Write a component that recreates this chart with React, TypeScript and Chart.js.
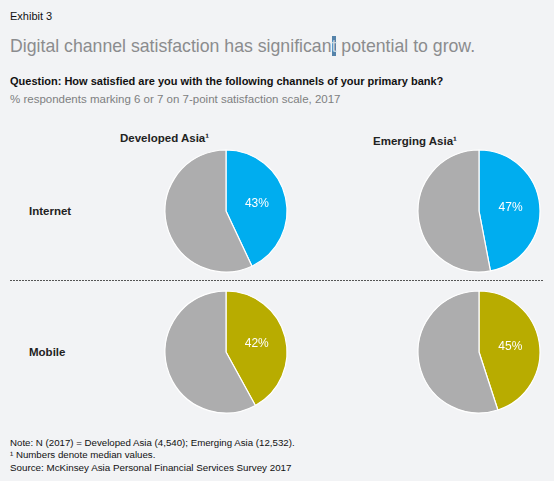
import React, { useEffect, useRef } from "react";
import { Chart, registerables } from "chart.js";

Chart.register(...registerables);

const regions = ["Developed Asia¹", "Emerging Asia¹"];
const channels = ["Internet", "Mobile"];
const internetValues = [43, 47];
const mobileValues = [42, 45];
const channelColors = ["#00adef", "#b8ac00"];
const restColor = "#adadae";

const FONT = '"Liberation Sans", Arial, Helvetica, sans-serif';
const BG = "#f2f3f5";

const labelPlugin = {
  id: "pctLabel",
  afterDatasetsDraw(chart: any) {
    const meta = chart.getDatasetMeta(0);
    const arc = meta.data[0];
    if (!arc) return;
    const p = arc.getProps(["x", "y", "startAngle", "endAngle", "outerRadius"], true);
    const mid = (p.startAngle + p.endAngle) / 2;
    const d = p.outerRadius * 0.52;
    const x = p.x + Math.cos(mid) * d;
    const y = p.y + Math.sin(mid) * d;
    const ctx = chart.ctx;
    ctx.save();
    ctx.fillStyle = "#ffffff";
    ctx.font = `12px ${FONT}`;
    ctx.textAlign = "center";
    ctx.textBaseline = "middle";
    ctx.fillText(chart.data.datasets[0].data[0] + "%", x, y);
    ctx.restore();
  },
};

function Pie({ value, color, cx, cy }: { value: number; color: string; cx: number; cy: number }) {
  const ref = useRef<HTMLCanvasElement>(null);
  useEffect(() => {
    if (!ref.current) return;
    const chart = new Chart(ref.current, {
      type: "pie",
      data: {
        labels: ["satisfied", "other"],
        datasets: [
          {
            data: [value, 100 - value],
            backgroundColor: [color, restColor],
            borderColor: "#ffffff",
            borderWidth: 1.2,
            hoverOffset: 0,
          },
        ],
      },
      options: {
        responsive: false,
        animation: false,
        radius: 61,
        plugins: { legend: { display: false }, tooltip: { enabled: false } },
        events: [],
      } as any,
      plugins: [labelPlugin],
    });
    return () => chart.destroy();
  }, [value, color]);
  const S = 134;
  return (
    <canvas
      ref={ref}
      width={S}
      height={S}
      style={{ position: "absolute", left: cx - S / 2, top: cy - S / 2, width: S, height: S }}
    />
  );
}

function Text({ x, y, size, children, bold, color }: any) {
  const lh = Math.round(size * 1.3);
  return (
    <div
      style={{
        position: "absolute",
        left: x,
        top: y - lh / 2,
        lineHeight: `${lh}px`,
        fontSize: size,
        fontWeight: bold ? 700 : 400,
        color: color || "#111",
        fontFamily: FONT,
        whiteSpace: "nowrap",
      }}
    >
      {children}
    </div>
  );
}

export default function App() {
  useEffect(() => {
    document.body.style.margin = "0";
    document.body.style.background = BG;
  }, []);
  const colX = [226, 479];
  const rowY = [211, 351.5];
  const values = [internetValues, mobileValues];
  return (
    <div style={{ position: "relative", width: 554, height: 481, background: BG, overflow: "hidden" }}>
      <Text x={10} y={16} size={11}>Exhibit 3</Text>
      <Text x={10} y={46} size={17.7} color="#8b8c8e">
        Digital channel satisfaction has significan
        <span style={{ background: "#5583aa", color: "#c9d6e2" }}>t</span> potential to grow.
      </Text>
      <Text x={10} y={81} size={11} bold>
        Question: How satisfied are you with the following channels of your primary bank?
      </Text>
      <Text x={10} y={99} size={11.5} color="#7e7f81">
        % respondents marking 6 or 7 on 7-point satisfaction scale, 2017
      </Text>
      <Text x={120} y={138} size={11.5} bold color="#222">{regions[0]}</Text>
      <Text x={373} y={141} size={11.5} bold color="#222">{regions[1]}</Text>
      <Text x={29} y={211} size={11.5} bold color="#222">{channels[0]}</Text>
      <Text x={29} y={352} size={11.5} bold color="#222">{channels[1]}</Text>
      <div
        style={{
          position: "absolute",
          left: 10,
          top: 280,
          width: 534,
          height: 1,
          background: "repeating-linear-gradient(to right, #555 0px, #555 2px, transparent 2px, transparent 3px)",
        }}
      />
      {values.map((row, ri) =>
        row.map((v, ci) => (
          <Pie key={`${ri}-${ci}`} value={v} color={channelColors[ri]} cx={colX[ci]} cy={rowY[ri]} />
        ))
      )}
      <Text x={10} y={442} size={9.7}>Note: N (2017) = Developed Asia (4,540); Emerging Asia (12,532).</Text>
      <Text x={10} y={454} size={9.7}>¹ Numbers denote median values.</Text>
      <Text x={10} y={467.5} size={9.8}>Source: McKinsey Asia Personal Financial Services Survey 2017</Text>
    </div>
  );
}
